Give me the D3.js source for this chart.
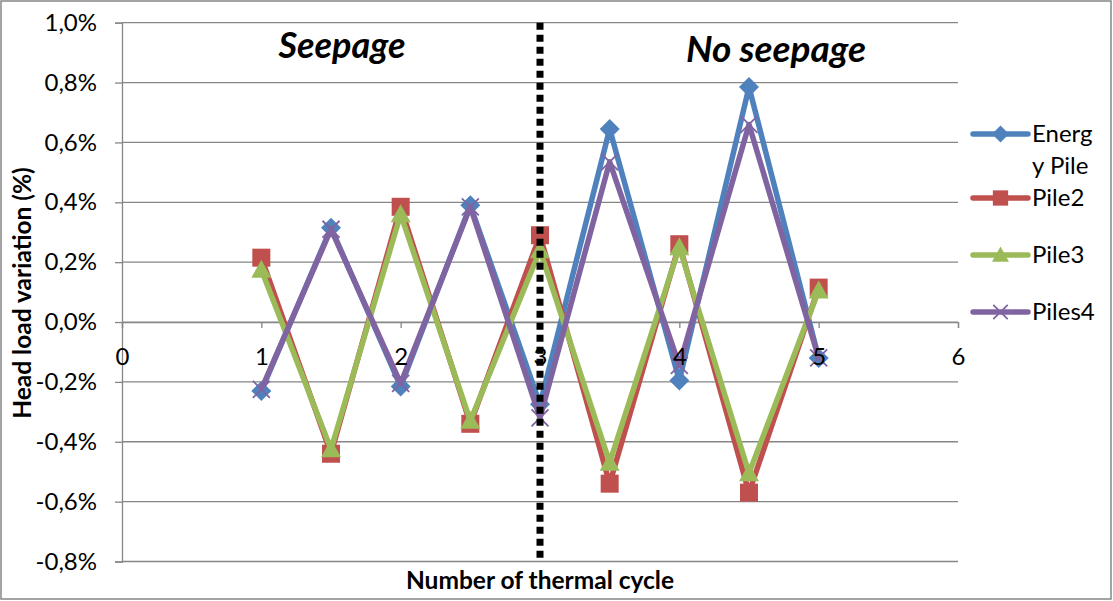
<!DOCTYPE html>
<html><head><meta charset="utf-8">
<script src="https://cdn.jsdelivr.net/npm/d3@7"></script>
<style>
html,body{margin:0;padding:0;background:#fff;}
svg{display:block;font-family:Lato,"Open Sans",sans-serif;}
</style></head>
<body>
<svg id="chart" width="1113" height="601"></svg>
<script>
// ---- data ----
const cycles = [1, 1.5, 2, 2.5, 3, 3.5, 4, 4.5, 5];
const seriesNames = ["Energy Pile", "Pile2", "Pile3", "Piles4"];
const energyPile = [-0.23, 0.315, -0.215, 0.39, -0.275, 0.645, -0.195, 0.785, -0.12];
const pile2 = [0.215, -0.44, 0.385, -0.34, 0.29, -0.54, 0.26, -0.57, 0.115];
const pile3 = [0.175, -0.425, 0.36, -0.33, 0.24, -0.47, 0.25, -0.505, 0.105];
const piles4 = [-0.225, 0.31, -0.205, 0.385, -0.32, 0.535, -0.145, 0.66, -0.12];
const xTicks = [0, 1, 2, 3, 4, 5, 6];
const yTicks = [-0.8, -0.6, -0.4, -0.2, 0.0, 0.2, 0.4, 0.6, 0.8, 1.0];
const dividerX = 3;
const regionLabels = ["Seepage", "No seepage"];
const xTitle = "Number of thermal cycle";
const yTitle = "Head load variation (%)";

// ---- styles ----
const colors = ["#4F81BD", "#C0504D", "#9BBB59", "#8064A2"];
const markers = ["diamond", "square", "triangle", "x"];
const grid = "#868686";

const svg = d3.select("#chart");
const W = 1113, H = 601;
const x = d3.scaleLinear().domain([0, 6]).range([122, 958]);
const y = d3.scaleLinear().domain([-0.8, 1.0]).range([561.5, 22.7]);

// outer border
svg.append("rect").attr("x", 1).attr("y", 1).attr("width", W - 3).attr("height", H - 3)
  .attr("fill", "#fff").attr("stroke", grid).attr("stroke-width", 1.5);

// gridlines
svg.append("g").selectAll("line").data(yTicks).join("line")
  .attr("x1", x(0)).attr("x2", x(6))
  .attr("y1", d => y(d)).attr("y2", d => y(d))
  .attr("stroke", grid).attr("stroke-width", 1.3);

// y axis
const fmt = d => d.toFixed(1).replace(".", ",") + "%";
const yAxis = svg.append("g").attr("transform", `translate(${x(0)},0)`)
  .call(d3.axisLeft(y).tickValues(yTicks).tickFormat(fmt).tickSize(7).tickPadding(18));
yAxis.select(".domain").attr("stroke", grid).attr("stroke-width", 1.3);
yAxis.selectAll(".tick line").attr("stroke", grid).attr("stroke-width", 1.3);
yAxis.selectAll("text").attr("font-size", 24).attr("fill", "#000")
  .attr("font-family", "Lato, sans-serif");

// x axis line + ticks (labels drawn later, over the series)
const xAxisGen = d3.axisBottom(x).tickValues(xTicks).tickFormat(d3.format("d")).tickSize(6).tickPadding(20);
const xAxis = svg.append("g").attr("transform", `translate(0,${y(0)})`).call(xAxisGen);
xAxis.select(".domain").attr("stroke", grid).attr("stroke-width", 1.3);
xAxis.selectAll(".tick line").attr("stroke", grid).attr("stroke-width", 1.3);
xAxis.selectAll("text").remove();

// series
const allSeries = [energyPile, pile2, pile3, piles4];
const line = d3.line().x((d, i) => x(cycles[i])).y(d => y(d));

function drawMarker(g, type, color, size) {
  const s = size / 2;
  if (type === "diamond") {
    g.append("path").attr("d", `M0,${-s}L${s},0L0,${s}L${-s},0Z`).attr("fill", color);
  } else if (type === "square") {
    g.append("rect").attr("x", -s * 0.9).attr("y", -s * 0.9).attr("width", s * 1.8).attr("height", s * 1.8).attr("fill", color);
  } else if (type === "triangle") {
    g.append("path").attr("d", `M0,${-s}L${s},${s * 0.8}L${-s},${s * 0.8}Z`).attr("fill", color);
  } else if (type === "x") {
    g.append("path").attr("d", `M${-s * 0.85},${-s * 0.85}L${s * 0.85},${s * 0.85}M${s * 0.85},${-s * 0.85}L${-s * 0.85},${s * 0.85}`)
      .attr("stroke", color).attr("stroke-width", 1.8).attr("fill", "none");
  }
}

allSeries.forEach((vals, k) => {
  const g = svg.append("g");
  g.append("path").datum(vals).attr("d", line).attr("fill", "none")
    .attr("stroke", colors[k]).attr("stroke-width", 5.5).attr("stroke-linejoin", "round");
  vals.forEach((v, i) => {
    const mg = g.append("g").attr("transform", `translate(${x(cycles[i])},${y(v)})`);
    drawMarker(mg, markers[k], colors[k], 20);
  });
});

// x tick labels over the series
const xLabels = svg.append("g").attr("transform", `translate(0,${y(0)})`)
  .call(d3.axisBottom(x).tickValues(xTicks).tickFormat(d3.format("d")).tickSize(6).tickPadding(20));
xLabels.select(".domain").remove();
xLabels.selectAll(".tick line").remove();
xLabels.selectAll("text").attr("font-size", 24).attr("fill", "#000")
  .attr("font-family", "Lato, sans-serif");

// divider dotted line
svg.append("line").attr("x1", x(dividerX)).attr("x2", x(dividerX))
  .attr("y1", y(1.0)).attr("y2", y(-0.8))
  .attr("stroke", "#000").attr("stroke-width", 7).attr("stroke-dasharray", "7,5");

// region labels
svg.append("text").attr("x", 342).attr("y", 58).attr("text-anchor", "middle")
  .attr("font-size", 36).attr("font-weight", "bold").attr("font-style", "italic").text(regionLabels[0]);
svg.append("text").attr("x", 776).attr("y", 62).attr("text-anchor", "middle")
  .attr("font-size", 37).attr("font-weight", "bold").attr("font-style", "italic").text(regionLabels[1]);

// axis titles
svg.append("text").attr("x", 540).attr("y", 589).attr("text-anchor", "middle")
  .attr("font-size", 24.5).attr("font-weight", "bold").text(xTitle);
svg.append("text").attr("transform", `translate(31,293) rotate(-90)`).attr("text-anchor", "middle")
  .attr("font-size", 24.5).attr("font-weight", "bold").text(yTitle);

// legend
const legendRows = [
  { lines: ["Energ", "y Pile"], y: 134 },
  { lines: ["Pile2"], y: 198 },
  { lines: ["Pile3"], y: 255 },
  { lines: ["Piles4"], y: 312 }
];
legendRows.forEach((r, k) => {
  const g = svg.append("g");
  g.append("line").attr("x1", 973).attr("x2", 1028).attr("y1", r.y).attr("y2", r.y)
    .attr("stroke", colors[k]).attr("stroke-width", 5.5).attr("stroke-linecap", "round");
  const mg = g.append("g").attr("transform", `translate(1000.5,${r.y})`);
  drawMarker(mg, markers[k], colors[k], 17);
  r.lines.forEach((t, j) => {
    g.append("text").attr("x", 1032).attr("y", r.y + 8 + j * 32)
      .attr("font-size", 24).attr("fill", "#000").text(t);
  });
});
</script>
</body></html>
